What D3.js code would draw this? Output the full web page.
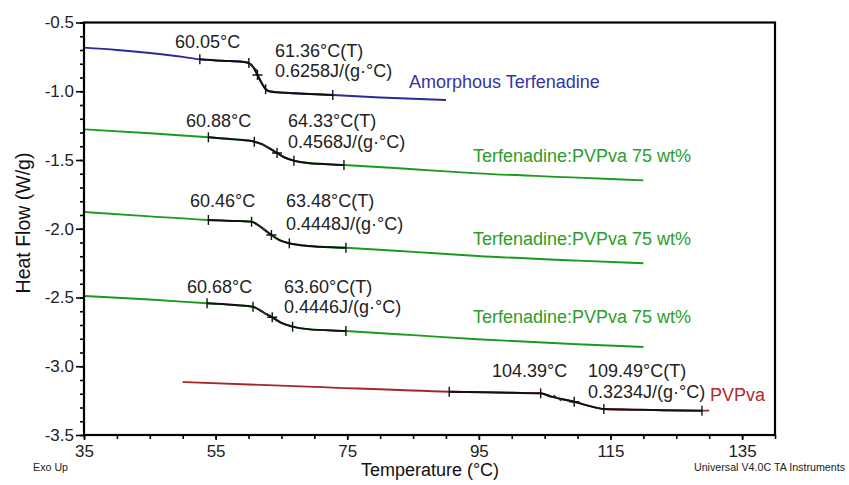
<!DOCTYPE html>
<html>
<head>
<meta charset="utf-8">
<script src="https://cdn.jsdelivr.net/npm/d3@7"></script>
<style>
  html, body { margin: 0; padding: 0; background: #fff; }
  svg { display: block; font-family: "Liberation Sans", Arial, sans-serif; }
</style>
</head>
<body>
<svg id="chart" width="849" height="485"></svg>
<script>
// DSC thermograms: heat flow (W/g) vs temperature (°C)
const amorphous = [
  [35, -0.683], [40, -0.700], [45, -0.722], [50, -0.750], [52.6, -0.768],
  [56, -0.778], [59, -0.785], [60.05, -0.795], [60.8, -0.830], [61.36, -0.882],
  [62, -0.940], [62.6, -0.985], [63.3, -1.002], [64.5, -1.008], [67, -1.015],
  [72.8, -1.027], [80, -1.045], [90, -1.064]
];
const blendA = [
  [35, -1.277], [45, -1.305], [53.9, -1.335], [58, -1.350], [60.88, -1.367],
  [62, -1.385], [63, -1.410], [64.33, -1.449], [65.5, -1.482], [66.9, -1.505],
  [69, -1.522], [74.5, -1.536], [85, -1.567], [94.8, -1.597], [110, -1.628], [120, -1.648]
];
const blendB = [
  [35, -1.878], [45, -1.910], [53.9, -1.936], [58, -1.943], [60.46, -1.949],
  [61.5, -1.975], [62.5, -2.010], [63.48, -2.045], [64.8, -2.085], [66.2, -2.106],
  [69, -2.125], [74.8, -2.138], [85, -2.168], [94.8, -2.198], [110, -2.232], [120, -2.251]
];
const blendC = [
  [35, -2.489], [45, -2.515], [53.7, -2.542], [58, -2.555], [60.68, -2.567],
  [61.8, -2.595], [62.7, -2.620], [63.6, -2.644], [65, -2.685], [66.7, -2.712],
  [69, -2.730], [74.8, -2.744], [85, -2.774], [94.8, -2.804], [110, -2.840], [120, -2.860]
];
const pvpva = [
  [50, -3.115], [70, -3.150], [90.5, -3.185], [100, -3.193], [104.39, -3.197],
  [106, -3.221], [109.49, -3.258], [112, -3.292], [114, -3.311], [120, -3.317],
  [128.9, -3.323], [130, -3.323]
];

// Glass transition analysis: [left limit, onset, midpoint, end, right limit]
const analysisAmorphous = [52.6, 60.05, 61.36, 62.6, 72.8];
const analysisBlendA = [53.9, 60.88, 64.33, 66.9, 74.5];
const analysisBlendB = [53.9, 60.46, 63.48, 66.2, 74.8];
const analysisBlendC = [53.7, 60.68, 63.60, 66.7, 74.8];
const analysisPvpva = [90.5, 104.39, 109.49, 114.0, 128.9];

const onsetLabels = ["60.05°C", "60.88°C", "60.46°C", "60.68°C", "104.39°C"];
const midLabels = ["61.36°C(T)", "64.33°C(T)", "63.48°C(T)", "63.60°C(T)", "109.49°C(T)"];
const cpLabels = ["0.6258J/(g·°C)", "0.4568J/(g·°C)", "0.4448J/(g·°C)", "0.4446J/(g·°C)", "0.3234J/(g·°C)"];
const seriesNames = ["Amorphous Terfenadine", "Terfenadine:PVPva 75 wt%", "Terfenadine:PVPva 75 wt%", "Terfenadine:PVPva 75 wt%", "PVPva"];

const xTicks = [35, 55, 75, 95, 115, 135];
const yTicks = [-0.5, -1.0, -1.5, -2.0, -2.5, -3.0, -3.5];

const svg = d3.select("#chart");
const x = d3.scaleLinear().domain([35, 140]).range([84, 775]);
const y = d3.scaleLinear().domain([-3.5, -0.5]).range([435, 22.5]);

const series = [
  { data: amorphous, color: "#2a2a9a", text: "#3434a8", a: analysisAmorphous,
    onsetPos: [175, 48], midPos: [275, 57], cpPos: [275, 77], namePos: [409, 88] },
  { data: blendA, color: "#1c9a1c", text: "#2a9d2a", a: analysisBlendA,
    onsetPos: [186, 127], midPos: [288, 127], cpPos: [288, 148], namePos: [473, 162] },
  { data: blendB, color: "#1c9a1c", text: "#2a9d2a", a: analysisBlendB,
    onsetPos: [190, 207], midPos: [286, 207], cpPos: [286, 230], namePos: [473, 245] },
  { data: blendC, color: "#1c9a1c", text: "#2a9d2a", a: analysisBlendC,
    onsetPos: [187, 293], midPos: [284, 293], cpPos: [284, 313], namePos: [473, 323] },
  { data: pvpva, color: "#a52828", text: "#b02a2a", a: analysisPvpva,
    onsetPos: [492, 377], midPos: [588, 377], cpPos: [588, 398], namePos: [710, 401] }
];

const line = d3.line()
  .x(d => x(d[0]))
  .y(d => y(d[1]))
  .curve(d3.curveMonotoneX);

// value of a curve at temperature t (for placing analysis marks on it)
function at(data, t) {
  const i = d3.bisector(d => d[0]).left(data, t);
  if (i <= 0) return data[0][1];
  if (i >= data.length) return data[data.length - 1][1];
  const a = data[i - 1], b = data[i];
  return a[1] + (b[1] - a[1]) * (t - a[0]) / (b[0] - a[0]);
}

const defs = svg.append("defs");

series.forEach((s, k) => {
  const g = svg.append("g");
  g.append("path")
    .attr("d", line(s.data))
    .attr("fill", "none")
    .attr("stroke", s.color)
    .attr("stroke-width", 1.9);

  // black analysed segment between the limits
  const clipId = "clip" + k;
  defs.append("clipPath").attr("id", clipId)
    .append("rect")
    .attr("x", x(s.a[0])).attr("width", x(s.a[4]) - x(s.a[0]))
    .attr("y", 0).attr("height", 485);
  g.append("path")
    .attr("d", line(s.data))
    .attr("clip-path", `url(#${clipId})`)
    .attr("fill", "none")
    .attr("stroke", "#111")
    .attr("stroke-width", 2);

  // limit, onset and end ticks
  [s.a[0], s.a[1], s.a[3], s.a[4]].forEach(t => {
    const px = x(t), py = y(at(s.data, t));
    g.append("line")
      .attr("x1", px).attr("x2", px)
      .attr("y1", py - 5).attr("y2", py + 5)
      .attr("stroke", "#111").attr("stroke-width", 1.4);
  });
  // midpoint cross
  const mx = x(s.a[2]), my = y(at(s.data, s.a[2]));
  g.append("path")
    .attr("d", `M${mx - 5},${my}H${mx + 5}M${mx},${my - 5}V${my + 5}`)
    .attr("stroke", "#111").attr("stroke-width", 1.4);
  // small tangent mark between onset and midpoint
  const tt = (s.a[1] + s.a[2]) / 2;
  const tx = x(tt), ty = y(at(s.data, tt));
  g.append("path")
    .attr("d", `M${tx - 4},${ty - 3}L${tx + 4},${ty + 3}`)
    .attr("stroke", "#333").attr("stroke-width", 1.3);

  const fs = 18;
  g.append("text").attr("x", s.onsetPos[0]).attr("y", s.onsetPos[1])
    .attr("font-size", fs).attr("fill", "#222").text(onsetLabels[k]);
  g.append("text").attr("x", s.midPos[0]).attr("y", s.midPos[1])
    .attr("font-size", fs).attr("fill", "#222").text(midLabels[k]);
  g.append("text").attr("x", s.cpPos[0]).attr("y", s.cpPos[1])
    .attr("font-size", fs).attr("fill", "#222").text(cpLabels[k]);
  g.append("text").attr("x", s.namePos[0]).attr("y", s.namePos[1])
    .attr("font-size", fs).attr("fill", s.text).text(seriesNames[k]);
});

// plot frame
svg.append("rect")
  .attr("x", 84).attr("y", 22.5)
  .attr("width", 775 - 84).attr("height", 435 - 22.5)
  .attr("fill", "none").attr("stroke", "#000").attr("stroke-width", 2.2);

function styleAxis(g) {
  g.select(".domain").remove();
  g.selectAll("line").attr("stroke", "#000").attr("stroke-width", 1.6);
  g.selectAll("text").attr("font-size", 17).attr("fill", "#222")
    .attr("font-family", "Liberation Sans, Arial, sans-serif");
}

// x axis: minor ticks every 5 °C, labels every 20 °C
svg.append("g").attr("transform", "translate(0,435)")
  .call(d3.axisBottom(x).tickValues(d3.range(35, 141, 5)).tickSize(4).tickFormat(() => ""))
  .call(styleAxis);
svg.append("g").attr("transform", "translate(0,435)")
  .call(d3.axisBottom(x).tickValues(xTicks).tickSize(5).tickPadding(5).tickFormat(d3.format("d")))
  .call(styleAxis);

// y axis: minor ticks every 0.1 W/g, labels every 0.5 W/g
svg.append("g").attr("transform", "translate(84,0)")
  .call(d3.axisLeft(y).tickValues(d3.range(-35, -4, 1).map(v => v / 10)).tickSize(4).tickFormat(() => ""))
  .call(styleAxis);
svg.append("g").attr("transform", "translate(84,0)")
  .call(d3.axisLeft(y).tickValues(yTicks).tickSize(8).tickPadding(2)
    .tickFormat(d => d3.format(".1f")(d).replace("−", "-")))
  .call(styleAxis);

// axis titles
svg.append("text")
  .attr("x", 430).attr("y", 476)
  .attr("text-anchor", "middle").attr("font-size", 18).attr("fill", "#111")
  .text("Temperature (°C)");
svg.append("text")
  .attr("transform", "translate(30,223) rotate(-90)")
  .attr("text-anchor", "middle").attr("font-size", 19.5).attr("fill", "#111")
  .text("Heat Flow (W/g)");

// instrument footer
svg.append("text").attr("x", 33).attr("y", 471)
  .attr("font-size", 10.7).attr("fill", "#222").text("Exo Up");
svg.append("text").attr("x", 845).attr("y", 471).attr("text-anchor", "end")
  .attr("font-size", 10.7).attr("fill", "#222").text("Universal V4.0C TA Instruments");
</script>
</body>
</html>
